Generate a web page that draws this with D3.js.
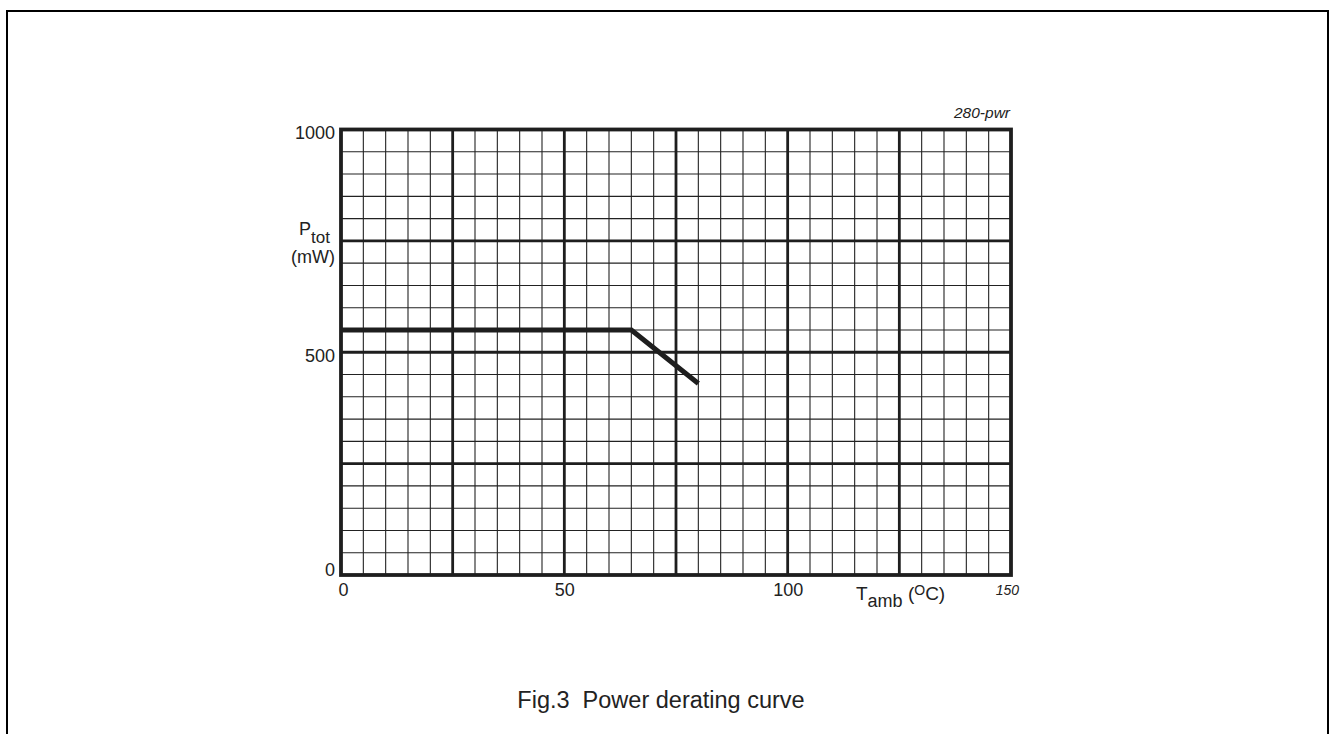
<!DOCTYPE html>
<html>
<head>
<meta charset="utf-8">
<script src="https://cdn.jsdelivr.net/npm/d3@7"></script>
<style>
  body { margin: 0; background: #fff; }
  text { font-family: "Liberation Sans", Arial, sans-serif; fill: #222; }
</style>
</head>
<body>
<svg id="chart"></svg>
<script>
// data
const tempC = [0, 65, 80];
const powerMW = [550, 550, 430];
const xTickLabels = [0, 50, 100];
const yTickLabels = [0, 500, 1000];
const xEndLabel = 150;
const figCode = "280-pwr";
const figTitle = "Fig.3  Power derating curve";

const width = 1334, height = 734;
const margin = {top: 129.5, right: 323, bottom: 159, left: 341};

const svg = d3.select("#chart").attr("width", width).attr("height", height);

// outer frame (open at the bottom)
svg.append("path")
    .attr("d", `M7,${height}V11H1328V${height}`)
    .attr("fill", "none")
    .attr("stroke", "#000")
    .attr("stroke-width", 2);

const x = d3.scaleLinear().domain([0, 150]).range([margin.left, width - margin.right]);
const y = d3.scaleLinear().domain([0, 1000]).range([height - margin.bottom, margin.top]);

// minor grid
const g = svg.append("g");
g.selectAll(".vminor")
    .data(d3.range(5, 150, 5))
    .enter().append("line")
    .attr("x1", d => x(d)).attr("x2", d => x(d))
    .attr("y1", y(0)).attr("y2", y(1000))
    .attr("stroke", "#222").attr("stroke-width", 1.1);
g.selectAll(".hminor")
    .data(d3.range(50, 1000, 50))
    .enter().append("line")
    .attr("y1", d => y(d)).attr("y2", d => y(d))
    .attr("x1", x(0)).attr("x2", x(150))
    .attr("stroke", "#222").attr("stroke-width", 1.1);

// major grid
g.selectAll(".vmajor")
    .data(d3.range(25, 150, 25))
    .enter().append("line")
    .attr("x1", d => x(d)).attr("x2", d => x(d))
    .attr("y1", y(0)).attr("y2", y(1000))
    .attr("stroke", "#1e1e1e").attr("stroke-width", 2.8);
g.selectAll(".hmajor")
    .data(d3.range(250, 1000, 250))
    .enter().append("line")
    .attr("y1", d => y(d)).attr("y2", d => y(d))
    .attr("x1", x(0)).attr("x2", x(150))
    .attr("stroke", "#1e1e1e").attr("stroke-width", 2.8);

// plot border
g.append("rect")
    .attr("x", x(0)).attr("y", y(1000))
    .attr("width", x(150) - x(0)).attr("height", y(0) - y(1000))
    .attr("fill", "none").attr("stroke", "#1e1e1e").attr("stroke-width", 3.8);

// derating curve
const line = d3.line().x(d => x(d[0])).y(d => y(d[1]));
svg.append("path")
    .datum(d3.zip(tempC, powerMW))
    .attr("d", line)
    .attr("fill", "none")
    .attr("stroke", "#1e1e1e")
    .attr("stroke-width", 5)
    .attr("stroke-linejoin", "miter")
    .attr("stroke-linecap", "butt");

// axes (labels only)
const yAxis = svg.append("g")
    .attr("transform", `translate(${x(0) - 6},0)`)
    .call(d3.axisLeft(y).tickValues(yTickLabels).tickFormat(d3.format("d")).tickSize(0).tickPadding(0));
yAxis.select(".domain").remove();
yAxis.selectAll("text")
    .attr("dy", null)
    .attr("y", d => Math.min(y(d) + 9, y(0)) - y(d))
    .style("font-size", "18px")
    .style("fill", "#222");

const xAxis = svg.append("g")
    .attr("transform", `translate(0,${y(0)})`)
    .call(d3.axisBottom(x).tickValues(xTickLabels).tickFormat(d3.format("d")).tickSize(0).tickPadding(0));
xAxis.select(".domain").remove();
xAxis.selectAll("text")
    .attr("dy", null)
    .attr("y", 21)
    .attr("dx", d => d === 0 ? 2 : 0)
    .style("font-size", "18px")
    .style("fill", "#222");

svg.append("text")
    .attr("x", x(xEndLabel) + 8)
    .attr("y", y(0) + 20)
    .attr("text-anchor", "end")
    .style("font-size", "14px")
    .style("font-style", "italic")
    .text(xEndLabel);

svg.append("text")
    .attr("x", x(150) - 1)
    .attr("y", y(1000) - 12)
    .attr("text-anchor", "end")
    .style("font-size", "15.5px")
    .style("font-style", "italic")
    .text(figCode);

// y axis title
const yt = svg.append("text")
    .attr("x", 299)
    .attr("y", 235)
    .style("font-size", "18px");
yt.append("tspan").text("P");
yt.append("tspan").attr("dy", 8).style("font-size", "17px").text("tot");
svg.append("text")
    .attr("x", 335)
    .attr("y", 263)
    .attr("text-anchor", "end")
    .style("font-size", "18px")
    .text("(mW)");

// x axis title
const xt = svg.append("text")
    .attr("x", 856)
    .attr("y", 600)
    .style("font-size", "19px");
xt.append("tspan").text("T");
xt.append("tspan").attr("dy", 7).style("font-size", "18px").text("amb");
xt.append("tspan").attr("dy", -7).text(" (");
xt.append("tspan").attr("dy", -5).style("font-size", "14px").text("O");
xt.append("tspan").attr("dy", 5).text("C)");

// figure caption
svg.append("text")
    .attr("x", 661)
    .attr("y", 708)
    .attr("text-anchor", "middle")
    .style("font-size", "23.5px")
    .style("white-space", "pre")
    .text(figTitle);
</script>
</body>
</html>
